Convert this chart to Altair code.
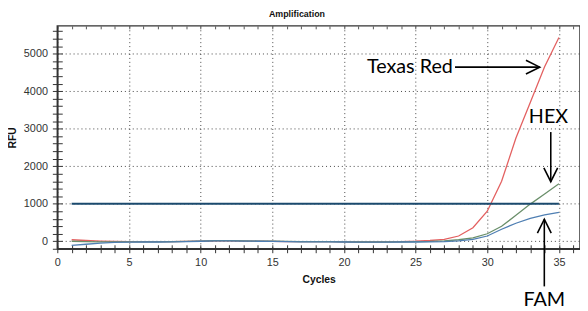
import altair as alt
import pandas as pd

# ---------------- data ----------------
cycles = list(range(1, 36))
texas_red = [40, 20, 5, -5, -10, -10, -10, -10, -5, 0, 10, 10, 5, 0, -5, -10, -10, -10, -10, -15,
             -20, -20, -15, -10, 0, 20, 50, 140, 360, 800, 1600, 2750, 3700, 4650, 5430]
hex_vals = [0, -10, -15, -15, -15, -15, -15, -10, -5, 5, 15, 15, 10, 5, 0, -5, -10, -10, -10, -15,
            -20, -20, -20, -15, -10, -5, 10, 40, 90, 200, 400, 690, 990, 1260, 1530]
fam = [-110, -80, -50, -30, -25, -20, -20, -15, -10, 0, 10, 10, 5, 0, -5, -10, -15, -15, -15, -20,
       -25, -25, -25, -20, -20, -15, -10, 10, 50, 140, 320, 480, 610, 700, 770]
dyes = ["Texas Red", "HEX", "FAM"]
dye_colors = ["#e36060", "#6a8f6a", "#4f7fb3"]

threshold_value = [1000]
threshold_start = [1]
threshold_end = [35]

x_major = [0, 5, 10, 15, 20, 25, 30, 35]
x_minor = list(range(0, 37))
y_major = [0, 1000, 2000, 3000, 4000, 5000]
y_minor = list(range(-200, 5601, 200))
x_domain = [0, 36.47]
y_domain = [-200, 5740]

ann_text = ["Texas Red", "HEX", "FAM"]
ann_x = [27.6, 34.27, 33.98]
ann_y = [4640, 3297, -1580]
ann_align = ["right", "center", "center"]

arrow_x = [27.75, 34.43, 33.98]
arrow_x2 = [33.66, 34.43, 33.98]
arrow_y = [4640, 2910, -1203]
arrow_y2 = [4640, 1587, 587]
arrow_angle = [0, 90, 270]

# ---------------- frames ----------------
rows = []
for name, vals in zip(dyes, [texas_red, hex_vals, fam]):
    for c, v in zip(cycles, vals):
        rows.append({"cycle": c, "rfu": v, "dye": name})
curves = pd.DataFrame(rows)
thr = pd.DataFrame({"x": threshold_start, "x2": threshold_end, "y": threshold_value})
ann = pd.DataFrame({"t": ann_text, "x": ann_x, "y": ann_y, "align": ann_align})
arr = pd.DataFrame({"x": arrow_x, "x2": arrow_x2, "y": arrow_y, "y2": arrow_y2, "angle": arrow_angle})

FONT = "Liberation Sans"
xs = alt.Scale(domain=x_domain, nice=False, zero=False)
ys = alt.Scale(domain=y_domain, nice=False, zero=False)

axis_x_main = alt.Axis(orient="bottom", values=x_major, grid=True, gridDash=[1, 3], gridColor="#444",
                       ticks=False, domain=True, domainColor="#333", domainWidth=1.5,
                       labelFont=FONT, labelFontSize=11, labelColor="#333", labelPadding=8,
                       labelFlush=False, format="d", title="Cycles", titleFont=FONT,
                       titleFontSize=10.5, titleFontWeight="bold", titleColor="#111", titlePadding=7)
axis_x_minor = alt.Axis(orient="bottom", values=x_minor, offset=-4, ticks=True, tickSize=8,
                        tickColor="#333", tickWidth=1, labels=False, domain=False, grid=False, title=None)
axis_x_top = alt.Axis(orient="top", values=x_minor, offset=-3, ticks=True, tickSize=3,
                      tickColor="#555", labels=False, domain=False, grid=False, title=None)
axis_y_main = alt.Axis(orient="left", values=y_major, grid=True, gridDash=[1, 3], gridColor="#444",
                       ticks=False, domain=True, domainColor="#333", domainWidth=1.5,
                       labelFont=FONT, labelFontSize=11, labelColor="#333", labelPadding=10,
                       format="d", title="RFU", titleFont=FONT, titleFontSize=10.5,
                       titleFontWeight="bold", titleColor="#111", titleX=-40, titleY=113,
                       titleAngle=270, titleBaseline="bottom", titleAlign="center")
axis_y_minor = alt.Axis(orient="left", values=y_minor, offset=-5, ticks=True, tickSize=10,
                        tickColor="#333", tickWidth=1, labels=False, domain=False, grid=False, title=None)

lines = alt.Chart(curves).mark_line(strokeWidth=1.3).encode(
    x=alt.X("cycle:Q", scale=xs, axis=axis_x_main),
    y=alt.Y("rfu:Q", scale=ys, axis=axis_y_main),
    color=alt.Color("dye:N", scale=alt.Scale(domain=dyes, range=dye_colors), legend=None),
)

thr_rule = alt.Chart(thr).mark_rule(color="#1b4a6e", strokeWidth=2).encode(
    x=alt.X("x:Q", scale=xs, axis=axis_x_minor),
    x2="x2:Q",
    y=alt.Y("y:Q", scale=ys, axis=axis_y_minor),
)

texts_right = alt.Chart(ann[ann["align"] == "right"]).mark_text(
    font="Lato", fontSize=20, color="#000", baseline="middle", align="right"
).encode(
    x=alt.X("x:Q", scale=xs, axis=axis_x_top),
    y=alt.Y("y:Q", scale=ys, axis=None),
    text="t:N",
)
texts_center = alt.Chart(ann[ann["align"] == "center"]).mark_text(
    font="Lato", fontSize=20, color="#000", baseline="middle", align="center"
).encode(
    x=alt.X("x:Q", scale=xs, axis=None),
    y=alt.Y("y:Q", scale=ys, axis=None),
    text="t:N",
)

arrow_lines = alt.Chart(arr).mark_rule(color="#000", strokeWidth=1.6).encode(
    x=alt.X("x:Q", scale=xs, axis=None),
    x2="x2:Q",
    y=alt.Y("y:Q", scale=ys, axis=None),
    y2="y2:Q",
)

heads = alt.Chart(arr).mark_point(shape="M -2 -1 L 0 0 L -2 1", filled=False, color="#000",
                                  strokeWidth=1.6, size=196, opacity=1).encode(
    x=alt.X("x2:Q", scale=xs, axis=None),
    y=alt.Y("y2:Q", scale=ys, axis=None),
    angle=alt.Angle("angle:Q", scale=None),
)

chart = alt.layer(lines, thr_rule, texts_right, texts_center, arrow_lines, heads).resolve_scale(
    x="shared", y="shared"
).resolve_axis(
    x="independent", y="independent"
).properties(
    width=530, height=226, autosize="none",
    padding={"left": 50, "top": 16, "right": 0, "bottom": 62},
    title=alt.TitleParams("Amplification", font=FONT, fontSize=9, fontWeight="bold",
                          color="#111", anchor="middle", dx=-22, offset=6),
).configure_view(stroke="#333", strokeWidth=1.5)

chart.save("out.html", embed_options={"renderer": "svg", "actions": False})
